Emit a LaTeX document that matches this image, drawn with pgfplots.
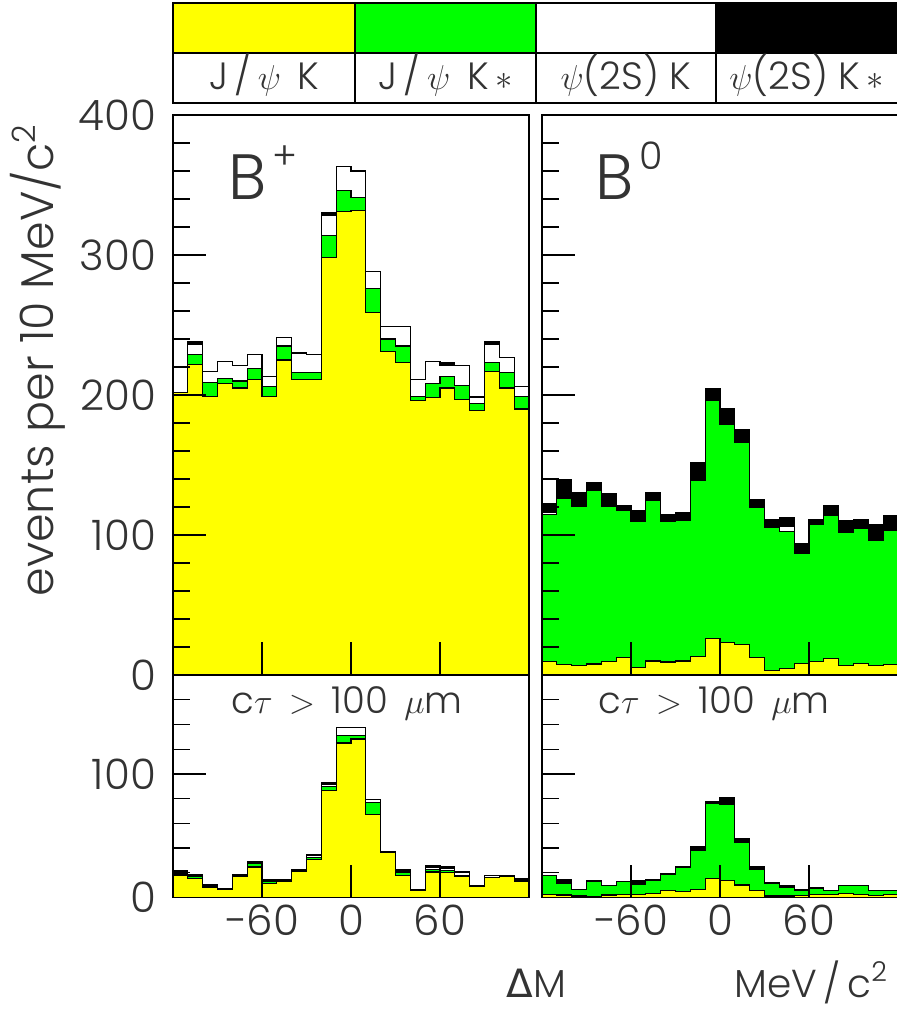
\documentclass[border=0pt]{standalone}
\usepackage{fontspec}
\IfFontExistsTF{Poppins Light}{\setmainfont{Poppins Light}}{%
  \IfFontExistsTF{Lato Light}{\setmainfont{Lato Light}}{\setmainfont{DejaVu Sans}}}
\newfontfamily\symfont{DejaVu Sans}
\usepackage{pgfplots}
\usepackage{pgfplotstable}
\pgfplotsset{compat=1.18}

\definecolor{pawyellow}{RGB}{255,255,0}
\definecolor{pawgreen}{RGB}{0,255,0}
\colorlet{txt}{black!80}

% cumulative stack levels per 10 MeV bin (left bin edge):
% y = J/psi K, g = + J/psi K*, w = + psi(2S) K, t = + psi(2S) K*
\pgfplotstableread{
x    y    g    w    t
-120 202  202  220  220
-110 222  229  236  238
-100 199  209  217  217
-90  208  212  224  224
-80  205  210  221  221
-70  211  219  229  229
-60  199  206  213  213
-50  225  235  241  241
-40  211  216  230  230
-30  211  216  229  229
-20  298  314  328  330
-10  331  346  363  363
0    332  341  360  360
10   259  276  288  288
20   231  240  249  249
30   223  235  249  249
40   196  199  211  211
50   198  208  224  224
60   205  213  221  223
70   197  207  221  221
80   189  194  198  199
90   217  223  236  238
100  205  216  227  227
110  190  199  206  206
120  190  199  206  206
}\bplus

\pgfplotstableread{
x    y     g      w      t
-120 9.5   114.7  116.0  122.6
-110 7.6   126.2  126.2  139.3
-100 6.7   120.2  120.2  130.2
-90  7.9   131.7  131.7  137.4
-80  9.5   120.7  120.7  129.8
-70  12.4  117.4  117.4  121.0
-60  5.5   110.0  110.0  117.4
-50  10.0  124.5  124.5  130.2
-40  9.3   110.0  110.0  114.7
-30  10.0  110.7  110.7  116.2
-20  13.1  139.3  139.3  151.9
-10  26.2  196.0  196.0  204.3
0    23.1  179.3  179.3  190.0
10   21.9  166.2  167.0  175.5
20   12.4  119.8  119.8  125.5
30   3.1   105.2  105.2  111.2
40   4.8   102.4  106.0  112.6
50   8.3   86.9   86.9   94.0
60   9.5   107.6  107.6  111.2
70   11.9  113.8  113.8  121.0
80   6.7   101.9  101.9  110.2
90   8.3   104.7  104.7  111.2
100  6.7   96.4   96.4   107.6
110  7.6   103.6  103.6  113.6
120  7.6   103.6  103.6  113.6
}\bzero

\pgfplotstableread{
x    y     g      w      t
-120 18.0  19.0   20.0   21.5
-110 15.6  17.0   17.5   18.3
-100 8.1   8.1    9.0    10.2
-90  6.7   6.7    7.0    7.2
-80  16.7  17.5   18.3   18.8
-70  24.7  27.7   28.3   28.8
-60  11.3  13.4   14.0   14.2
-50  13.4  14.0   14.2   14.2
-40  21.0  21.0   22.0   22.3
-30  30.6  32.3   34.3   35.0
-20  86.5  90.1   91.4   92.7
-10  125.0 131.0  137.6  137.6
0    128.2 131.0  137.6  137.6
10   67.2  76.6   79.3   79.3
20   36.3  36.3   37.0   37.1
30   17.5  20.7   22.0   22.3
40   5.9   5.9    6.5    6.7
50   20.7  22.8   24.5   25.5
60   20.2  22.0   23.5   24.7
70   17.0  18.0   20.0   20.7
80   8.9   8.9    9.3    9.4
90   16.1  16.1   17.5   17.5
100  17.0  17.0   18.0   18.0
110  13.4  13.4   15.0   15.3
120  13.4  13.4   15.0   15.3
}\bpluscut

\pgfplotstableread{
x    y     g      w      t
-120 2.7   17.5   17.5   18.0
-110 2.1   11.3   11.3   14.8
-100 1.3   6.2    6.2    6.2
-90  0.8   13.4   13.4   13.4
-80  2.1   9.4    9.4    9.4
-70  2.7   12.9   12.9   12.9
-60  2.7   10.8   10.8   14.0
-50  3.5   14.0   14.0   14.8
-40  5.4   18.3   18.3   19.3
-30  4.8   24.2   24.2   24.7
-20  6.7   38.2   38.2   41.1
-10  15.6  75.8   75.8   77.4
0    14.0  75.3   75.3   80.6
10   10.2  44.3   44.3   47.8
20   5.9   22.8   22.8   24.7
30   1.3   11.3   11.3   12.1
40   1.3   8.1    8.1    9.4
50   1.9   5.9    5.9    6.7
60   2.7   7.2    7.2    8.1
70   2.7   5.9    5.9    5.9
80   3.5   9.4    9.4    9.4
90   2.7   9.4    9.4    9.4
100  1.9   5.9    5.9    5.9
110  2.7   5.4    5.4    5.4
120  2.7   5.4    5.4    5.4
}\bzerocut

\pgfplotsset{
  pawaxis/.style={
    scale only axis, width=178pt,
    xmin=-120, xmax=120, ymin=0,
    axis on top,
    axis line style={line width=0.8pt, black},
    tick align=inside, tick pos=left,
    xtick={-60,0,60},
    major tick length=16.5pt, minor tick length=8.5pt,
    tick style={black, line width=0.6pt},
    ticklabel style={font=\fontsize{21}{25}\selectfont, text=txt},
    yticklabel style={xshift=-5pt},
  },
  hist/.style={const plot mark left, draw=black, line width=0.6pt, mark=none},
}

\newcommand{\stack}[1]{%
  \addplot[hist, fill=black]     table[x=x, y=t] {#1} \closedcycle;
  \addplot[hist, fill=white]     table[x=x, y=w] {#1} \closedcycle;
  \addplot[hist, fill=pawgreen]  table[x=x, y=g] {#1} \closedcycle;
  \addplot[hist, fill=pawyellow] table[x=x, y=y] {#1} \closedcycle;
}
\newcommand{\sups}[1]{\hspace{3pt}\raisebox{15pt}{\fontsize{19}{20}\selectfont #1}}

\begin{document}
\begin{tikzpicture}
\path[use as bounding box] (0pt,0pt) rectangle (448.5pt,-504.5pt);
\clip (0pt,0pt) rectangle (448.5pt,-504.5pt);

% channel key
\fill[pawyellow] (86.5pt,-1.5pt) rectangle (177.5pt,-26.5pt);
\fill[pawgreen]  (177.5pt,-1.5pt) rectangle (268pt,-26.5pt);
\fill[black]     (358pt,-1.5pt) rectangle (452pt,-26.5pt);
\draw[line width=0.6pt] (86.5pt,-1.5pt) rectangle (452pt,-51.5pt);
\draw[line width=0.6pt] (86.5pt,-26.5pt) -- (452pt,-26.5pt);
\foreach \xx in {177.5,268,358} \draw[line width=0.6pt] (\xx pt,-1.5pt) -- (\xx pt,-51.5pt);
\begin{scope}[every node/.style={font=\fontsize{19}{23}\selectfont, text=txt, anchor=base}]
\node at (132.25pt,-44.5pt) {J\,/\,$\psi$ \,K};
\node at (222.75pt,-44.5pt) {J\,/\,$\psi$ \,K\,$*$};
\node at (313pt,-44.5pt) {$\psi$(2S) K};
\node at (403.25pt,-44.5pt) {$\psi$(2S) K\,$*$};
\end{scope}

% B+ (all)
\begin{axis}[pawaxis, at={(86.5pt,-337.5pt)}, anchor=south west,
  height=280pt, ymax=400,
  ytick={0,100,200,300,400}, yticklabels={0,100,200,300,400},
  minor y tick num=4, xticklabels={}]
  \stack{\bplus}
\end{axis}

% B0 (all)
\begin{axis}[pawaxis, at={(271pt,-337.5pt)}, anchor=south west,
  height=280pt, ymax=400,
  ytick={0,100,200,300,400}, yticklabels={},
  minor y tick num=4, xticklabels={}]
  \stack{\bzero}
\end{axis}

% B+ (ct > 100 um)
\begin{axis}[pawaxis, at={(86.5pt,-448.75pt)}, anchor=south west,
  height=111.25pt, ymax=180,
  ytick={0,100}, yticklabels={0,100},
  minor ytick={20,40,60,80,120,140,160},
  xticklabels={−60,0,60}]
  \stack{\bpluscut}
\end{axis}

% B0 (ct > 100 um)
\begin{axis}[pawaxis, at={(271pt,-448.75pt)}, anchor=south west,
  height=111.25pt, ymax=180,
  ytick={0,100}, yticklabels={},
  minor ytick={20,40,60,80,120,140,160},
  xticklabels={−60,0,60}]
  \stack{\bzerocut}
\end{axis}

% panel captions and axis titles
\begin{scope}[every node/.style={text=txt, inner sep=0pt}]
\node[font=\fontsize{32}{36}\selectfont, anchor=base west] at (114pt,-99.5pt) {B\sups{+}};
\node[font=\fontsize{32}{36}\selectfont, anchor=base west] at (297.5pt,-99.5pt) {B\sups{0}};
\node[font=\fontsize{18.5}{22}\selectfont, anchor=base west] at (115.5pt,-356.5pt) {c$\tau$ \,$>$\, 100 \,$\mu$m};
\node[font=\fontsize{18.5}{22}\selectfont, anchor=base west] at (299pt,-356.5pt) {c$\tau$ \,$>$\, 100 \,$\mu$m};
\node[font=\fontsize{19.5}{23}\selectfont, anchor=base west] at (253pt,-498.5pt) {{\symfont Δ}M};
\node[font=\fontsize{19.5}{23}\selectfont, anchor=base west] at (367pt,-498.5pt) {MeV\,/\,c\textsuperscript{2}};
\node[font=\fontsize{23}{27}\selectfont, anchor=base, rotate=90] at (27pt,-180pt) {events per 10 MeV/c\textsuperscript{2}};
\end{scope}
\end{tikzpicture}
\end{document}
